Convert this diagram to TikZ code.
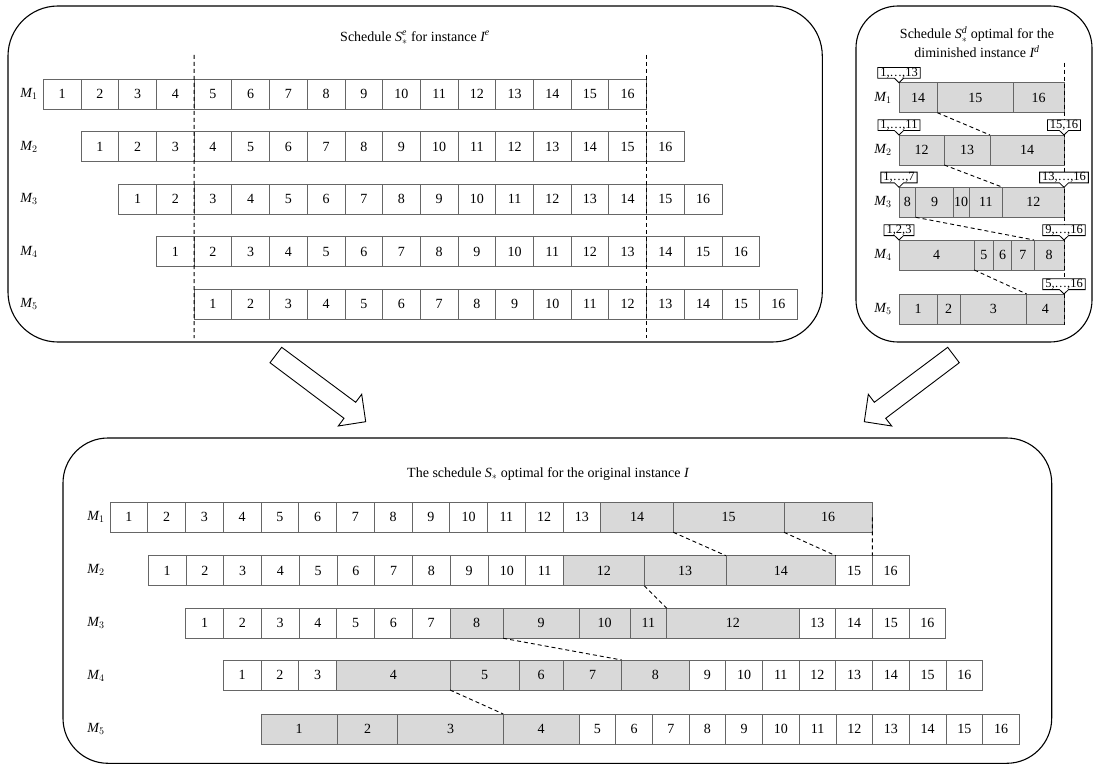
\documentclass[tikz,border=0pt]{standalone}
\usepackage{fontspec}
\setmainfont{Liberation Serif}
\usetikzlibrary{positioning,shapes.callouts}

\begin{document}
\begin{tikzpicture}[x=1pt,y=-1pt,font=\fontsize{14}{16}\selectfont,
  cell/.style={draw=black!60,line width=0.8pt,anchor=north west,inner sep=0pt,outer sep=0pt,
    minimum width=37.75pt,minimum height=30pt},
  gcell/.style={cell,fill=black!15},
  tag/.style={rectangle callout,draw,line width=0.8pt,fill=white,font=\fontsize{12.5}{12.5}\selectfont,
    inner xsep=2.5pt,inner ysep=0.3pt,minimum height=10.5pt,callout pointer width=9pt},
  dline/.style={dashed,dash pattern=on 4pt off 3pt,line width=0.9pt},
  panel/.style={draw,line width=1.1pt},
  hollow/.style={draw,line width=0.9pt,fill=white,line join=miter}]
  \useasboundingbox (0,0) rectangle (1096,765);

  % the extended instance
  \draw[panel,rounded corners=50pt] (8,6) rectangle (822.3,342);
  \node (ttl-e) at (415,38) {Schedule $\mathit{S}_*^{\mathit{e}}$ for instance $\mathit{I}^{\mathit{e}}$};
  \foreach \r in {1,...,5} {
    \node (em-\r) at (29,{94+(\r-1)*52.5}) {$\mathit{M}_{\r}$};
    \foreach \k in {1,...,16}
      \node[cell] (e-\r-\k) at ({43.3+(\r+\k-2)*37.7},{79+(\r-1)*52.5}) {\k};
  }
  \draw[dline] ([yshift=24pt]e-1-4.north east) -- ([yshift=-19pt]e-5-1.south west);
  \draw[dline] ([yshift=24pt]e-1-16.north east) -- ([yshift=-19pt]e-5-12.south east);

  % the diminished instance
  \draw[panel,rounded corners=42pt] (856,6) rectangle (1092,342);
  \node[align=center,font=\fontsize{14}{19}\selectfont] (ttl-d) at (977,42.5)
    {Schedule $\mathit{S}_*^{\mathit{d}}$ optimal for the\\diminished instance $\mathit{I}^{\mathit{d}}$};
  \foreach \a/\b/\t in {899/937.3/14,937.3/1013.3/15,1013.3/1064/16}
    \node[gcell,minimum width=\b-\a] (d-1-\t) at (\a,82.7) {\t};
  \foreach \a/\b/\t in {899/944.3/12,944.3/990/13,990/1064/14}
    \node[gcell,minimum width=\b-\a] (d-2-\t) at (\a,135) {\t};
  \foreach \a/\b/\t in {899/915.7/8,915.7/953.3/9,953.3/969/10,969/1002.7/11,1002.7/1064/12}
    \node[gcell,minimum width=\b-\a] (d-3-\t) at (\a,187.3) {\t};
  \foreach \a/\b/\t in {899/974.3/4,974.3/993.3/5,993.3/1011.7/6,1011.7/1034/7,1034/1064/8}
    \node[gcell,minimum width=\b-\a] (d-4-\t) at (\a,240) {\t};
  \foreach \a/\b/\t in {899/937.3/1,937.3/960/2,960/1026.7/3,1026.7/1064/4}
    \node[gcell,minimum width=\b-\a] (d-5-\t) at (\a,294) {\t};
  \node (dm-1) at (883,97.7) {$\mathit{M}_1$};
  \node (dm-2) at (883,150) {$\mathit{M}_2$};
  \node (dm-3) at (883,202.3) {$\mathit{M}_3$};
  \node (dm-4) at (883,255) {$\mathit{M}_4$};
  \node (dm-5) at (883,309) {$\mathit{M}_5$};
  \draw[dline] ([yshift=20pt]d-1-16.north east) -- ([yshift=-1pt]d-5-4.south east);
  \draw[dline] (d-1-14.south east) -- (d-2-13.north east);
  \draw[dline] (d-2-12.south east) -- (d-3-11.north east);
  \draw[dline] (d-3-8.south east) -- (d-4-7.north east);
  \draw[dline] (d-4-4.south east) -- (d-5-3.north east);
  \node[tag,above=4pt of d-1-14.north west,callout absolute pointer={(d-1-14.north west)}] (tg-1l) {1,\ldots,13};
  \node[tag,above=4pt of d-2-12.north west,callout absolute pointer={(d-2-12.north west)}] (tg-2l) {1,\ldots,11};
  \node[tag,above=4pt of d-2-14.north east,callout absolute pointer={(d-2-14.north east)}] (tg-2r) {15,16};
  \node[tag,above=4pt of d-3-8.north west,callout absolute pointer={(d-3-8.north west)}] (tg-3l) {1,\ldots,7};
  \node[tag,above=4pt of d-3-12.north east,callout absolute pointer={(d-3-12.north east)}] (tg-3r) {13,\ldots,16};
  \node[tag,above=4pt of d-4-4.north west,callout absolute pointer={(d-4-4.north west)}] (tg-4l) {1,2,3};
  \node[tag,above=4pt of d-4-8.north east,callout absolute pointer={(d-4-8.north east)}] (tg-4r) {9,\ldots,16};
  \node[tag,above=4pt of d-5-4.north east,callout absolute pointer={(d-5-4.north east)}] (tg-5r) {5,\ldots,16};

  % arrows
  \draw[hollow] (270,362.7) -- (281.7,347.3) -- (355.7,402.3) -- (361.7,394.3) -- (365.7,421.7)
    -- (338.3,426) -- (344,418.3) -- cycle;
  \draw[hollow] (947.7,347.3) -- (959.3,362.7) -- (885.7,418.3) -- (891.7,426) -- (864.3,421.7)
    -- (868.3,394.3) -- (874.3,402.3) -- cycle;

  % the original instance
  \draw[panel,rounded corners=45pt] (63,438) rectangle (1051.7,763.3);
  \node (ttl-s) at (548,474) {The schedule $\mathit{S}_*$ optimal for the original instance $\mathit{I}$};
  \foreach \r in {1,...,5}
    \node (sm-\r) at (96,{517.3+(\r-1)*52.9}) {$\mathit{M}_{\r}$};
  \foreach \k in {1,...,13}
    \node[cell] (s-1-\k) at ({110+(\k-1)*37.75},502.3) {\k};
  \foreach \a/\b/\t in {600.75/673.3/14,673.3/784/15,784/872.3/16}
    \node[gcell,minimum width=\b-\a] (s-1-\t) at (\a,502.3) {\t};
  \foreach \k in {1,...,11}
    \node[cell] (s-2-\k) at ({148.3+(\k-1)*37.75},555.7) {\k};
  \foreach \a/\b/\t in {563.55/644.3/12,644.3/726/13,726/835.7/14}
    \node[gcell,minimum width=\b-\a] (s-2-\t) at (\a,555.7) {\t};
  \foreach \a/\b/\t in {835.7/872.3/15,872.3/909/16}
    \node[cell,minimum width=\b-\a] (s-2-\t) at (\a,555.7) {\t};
  \foreach \k in {1,...,7}
    \node[cell] (s-3-\k) at ({185.7+(\k-1)*37.75},608.3) {\k};
  \foreach \a/\b/\t in {449.95/503.3/8,503.3/579/9,579/630/10,630/666.7/11,666.7/799/12}
    \node[gcell,minimum width=\b-\a] (s-3-\t) at (\a,608.3) {\t};
  \foreach \k in {13,...,16}
    \node[cell,minimum width=36.7pt] (s-3-\k) at ({799+(\k-13)*36.7},608.3) {\k};
  \foreach \k in {1,2,3}
    \node[cell] (s-4-\k) at ({223.3+(\k-1)*37.75},660) {\k};
  \foreach \a/\b/\t in {336.55/450/4,450/519/5,519/563.3/6,563.3/621.7/7,621.7/689/8}
    \node[gcell,minimum width=\b-\a] (s-4-\t) at (\a,660) {\t};
  \foreach \k in {9,...,16}
    \node[cell,minimum width=36.7pt] (s-4-\k) at ({689+(\k-9)*36.7},660) {\k};
  \foreach \a/\b/\t in {261/337.3/1,337.3/397.7/2,397.7/503.3/3,503.3/579/4}
    \node[gcell,minimum width=\b-\a] (s-5-\t) at (\a,714) {\t};
  \foreach \k in {5,...,16}
    \node[cell,minimum width=36.7pt] (s-5-\k) at ({579+(\k-5)*36.7},714) {\k};
  \draw[dline] (s-1-14.south east) -- (s-2-13.north east);
  \draw[dline] (s-1-15.south east) -- (s-2-14.north east);
  \draw[dline] (s-1-16.east) -- (s-2-15.north east);
  \draw[dline] (s-2-12.south east) -- (s-3-11.north east);
  \draw[dline] (s-3-8.south east) -- (s-4-7.north east);
  \draw[dline] (s-4-4.south east) -- (s-5-3.north east);
\end{tikzpicture}
\end{document}
